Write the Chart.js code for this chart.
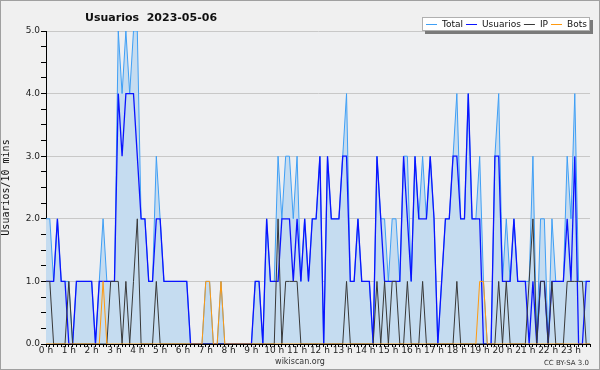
<!DOCTYPE html>
<html>
<head>
<meta charset="utf-8">
<script src="https://cdn.jsdelivr.net/npm/chart.js@4.4.1/dist/chart.umd.min.js"></script>
<style>
  html, body { margin: 0; padding: 0; background: #f0f0f0; }
  #wrap { width: 600px; height: 370px; }
</style>
</head>
<body>
<div id="wrap"><canvas id="wiki-chart" width="600" height="370"></canvas></div>
<script>
// Etiquetas de las horas (eje X)
const hourLabels = ['0 h', '1 h', '2 h', '3 h', '4 h', '5 h', '6 h', '7 h', '8 h', '9 h', '10 h', '11 h',
    '12 h', '13 h', '14 h', '15 h', '16 h', '17 h', '18 h', '19 h', '20 h', '21 h', '22 h', '23 h'];
const minuteSteps = ['00', '10', '20', '30', '40', '50'];
const yTickLabels = ['0.0', '1.0', '2.0', '3.0', '4.0', '5.0'];

// Valores cada 10 minutos (144 puntos)
const total = [
    2, 2, 1, 2, 1, 1, 1, 0, 1, 1, 1, 1, 1, 0, 1, 2, 1, 1, 1, 5, 4, 5, 4, 5,
    5, 2, 2, 1, 1, 3, 2, 1, 1, 1, 1, 1, 1, 1, 0, 0, 0, 0, 1, 1, 0, 0, 1, 0,
    0, 0, 0, 0, 0, 0, 0, 1, 1, 0, 2, 1, 1, 3, 2, 3, 3, 2, 3, 1, 2, 1, 2, 2,
    3, 0, 3, 2, 2, 2, 3, 4, 1, 1, 2, 1, 1, 1, 0, 3, 2, 2, 1, 2, 2, 1, 3, 3,
    1, 3, 2, 3, 2, 3, 2, 0, 1, 2, 2, 3, 4, 2, 2, 4, 2, 2, 3, 1, 0, 0, 3, 4,
    1, 2, 1, 2, 1, 1, 1, 1, 3, 0, 2, 2, 0, 2, 1, 1, 1, 3, 2, 4, 1, 1, 1, 1
];
const usuarios = [
    1, 1, 1, 2, 1, 1, 0, 0, 1, 1, 1, 1, 1, 0, 1, 1, 1, 1, 1, 4, 3, 4, 4, 4,
    3, 2, 2, 1, 1, 2, 2, 1, 1, 1, 1, 1, 1, 1, 0, 0, 0, 0, 0, 0, 0, 0, 0, 0,
    0, 0, 0, 0, 0, 0, 0, 1, 1, 0, 2, 1, 1, 1, 2, 2, 2, 1, 2, 1, 2, 1, 2, 2,
    3, 0, 3, 2, 2, 2, 3, 3, 1, 1, 2, 1, 1, 1, 0, 3, 2, 1, 1, 1, 1, 1, 3, 2,
    1, 3, 2, 2, 2, 3, 2, 0, 1, 2, 2, 3, 3, 2, 2, 4, 2, 2, 2, 0, 0, 0, 3, 3,
    1, 1, 1, 2, 1, 1, 1, 0, 1, 0, 1, 1, 0, 1, 1, 1, 1, 2, 1, 3, 0, 0, 1, 1
];
const ip = [
    1, 1, 0, 0, 0, 0, 1, 0, 0, 0, 0, 0, 0, 0, 0, 0, 0, 1, 1, 1, 0, 1, 0, 1,
    2, 0, 0, 0, 0, 1, 0, 0, 0, 0, 0, 0, 0, 0, 0, 0, 0, 0, 0, 0, 0, 0, 0, 0,
    0, 0, 0, 0, 0, 0, 0, 0, 0, 0, 0, 0, 0, 2, 0, 1, 1, 1, 1, 0, 0, 0, 0, 0,
    0, 0, 0, 0, 0, 0, 0, 1, 0, 0, 0, 0, 0, 0, 0, 1, 0, 1, 0, 1, 1, 0, 0, 1,
    0, 0, 0, 1, 0, 0, 0, 0, 0, 0, 0, 0, 1, 0, 0, 0, 0, 0, 0, 0, 0, 0, 0, 1,
    0, 1, 0, 0, 0, 0, 0, 1, 2, 0, 1, 1, 0, 1, 0, 0, 0, 1, 1, 1, 1, 1, 0, 0
];
const bots = [
    0, 0, 0, 0, 0, 0, 0, 0, 0, 0, 0, 0, 0, 0, 0, 1, 0, 0, 0, 0, 0, 0, 0, 0,
    0, 0, 0, 0, 0, 0, 0, 0, 0, 0, 0, 0, 0, 0, 0, 0, 0, 0, 1, 1, 0, 0, 1, 0,
    0, 0, 0, 0, 0, 0, 0, 0, 0, 0, 0, 0, 0, 0, 0, 0, 0, 0, 0, 0, 0, 0, 0, 0,
    0, 0, 0, 0, 0, 0, 0, 0, 0, 0, 0, 0, 0, 0, 0, 0, 0, 0, 0, 0, 0, 0, 0, 0,
    0, 0, 0, 0, 0, 0, 0, 0, 0, 0, 0, 0, 0, 0, 0, 0, 0, 0, 1, 1, 0, 0, 0, 0,
    0, 0, 0, 0, 0, 0, 0, 0, 0, 0, 0, 0, 0, 0, 0, 0, 0, 0, 0, 0, 0, 0, 0, 0
];

// Categorías: una por intervalo de 10 minutos
const times = [];
hourLabels.forEach(function (h, hi) {
    minuteSteps.forEach(function (m) {
        times.push(hi + ':' + m);
    });
});

// Fondo, título, leyenda y pie de página
const decor = {
    id: 'decor',
    beforeDraw(chart) {
        const ctx = chart.ctx;
        const a = chart.chartArea;
        ctx.save();
        ctx.fillStyle = '#f0f0f0';
        ctx.fillRect(0, 0, chart.width, chart.height);
        ctx.fillStyle = '#eeeff1';
        ctx.fillRect(a.left, a.top, a.right - a.left, a.bottom - a.top);
        ctx.strokeStyle = '#a0a0a0';
        ctx.lineWidth = 1;
        ctx.strokeRect(0.5, 0.5, chart.width - 1, chart.height - 1);
        ctx.restore();
    },
    afterDraw(chart) {
        const ctx = chart.ctx;
        ctx.save();
        // título
        ctx.fillStyle = '#111';
        ctx.font = 'bold 11px "DejaVu Sans"';
        ctx.textBaseline = 'alphabetic';
        ctx.textAlign = 'left';
        ctx.fillText('Usuarios  2023-05-06', 85, 21);

        // leyenda
        const boxL = 422, boxT = 17, boxR = 590, boxB = 31;
        ctx.fillStyle = '#7a7a7a';
        ctx.fillRect(boxL + 3, boxT + 3, boxR - boxL, boxB - boxT);
        ctx.fillStyle = '#ffffff';
        ctx.fillRect(boxL, boxT, boxR - boxL, boxB - boxT);
        ctx.strokeStyle = '#b0b0b0';
        ctx.strokeRect(boxL + 0.5, boxT + 0.5, boxR - boxL - 1, boxB - boxT - 1);
        ctx.font = '9px "DejaVu Sans"';
        ctx.textBaseline = 'middle';
        let x = boxL + 4;
        chart.data.datasets.forEach(function (ds) {
            ctx.strokeStyle = ds.borderColor;
            ctx.lineWidth = 1;
            ctx.beginPath();
            ctx.moveTo(x, 24.5);
            ctx.lineTo(x + 11, 24.5);
            ctx.stroke();
            ctx.fillStyle = '#111';
            ctx.fillText(ds.label, x + 16, 24.5);
            x += 16 + ctx.measureText(ds.label).width + 3;
        });

        // pie
        ctx.fillStyle = '#333';
        ctx.font = '8px "DejaVu Sans"';
        ctx.textAlign = 'center';
        ctx.textBaseline = 'alphabetic';
        ctx.fillText('wikiscan.org', 300, 364);
        ctx.font = '7px "DejaVu Sans"';
        ctx.textAlign = 'right';
        ctx.fillText('CC BY-SA 3.0', 589, 365);
        ctx.restore();
    }
};

Chart.defaults.font.family = '"DejaVu Sans"';
Chart.defaults.color = '#222';

const ctx = document.getElementById('wiki-chart').getContext('2d');
new Chart(ctx, {
    type: 'line',
    data: {
        labels: times,
        datasets: [{
            label: 'Total',
            data: total,
            borderColor: '#3f9ff5',
            backgroundColor: '#c5dcf0',
            borderWidth: 1,
            fill: 'origin',
            order: 4
        }, {
            label: 'Usuarios',
            data: usuarios,
            borderColor: '#0a14ff',
            borderWidth: 1.3,
            fill: false,
            order: 3
        }, {
            label: 'IP',
            data: ip,
            borderColor: '#383838',
            borderWidth: 1,
            fill: false,
            order: 2
        }, {
            label: 'Bots',
            data: bots,
            borderColor: '#ff9a10',
            borderWidth: 1,
            fill: false,
            order: 1
        }]
    },
    options: {
        responsive: false,
        animation: false,
        devicePixelRatio: 1,
        elements: {
            point: { radius: 0 },
            line: { tension: 0 }
        },
        layout: {
            padding: { left: 0, right: 10, top: 31, bottom: 0 }
        },
        plugins: {
            legend: { display: false },
            tooltip: { enabled: false }
        },
        scales: {
            x: {
                type: 'category',
                offset: false,
                afterFit: function (scale) { scale.height = 26; },
                grid: {
                    display: true,
                    drawOnChartArea: false,
                    tickLength: 3,
                    tickColor: '#000'
                },
                border: { display: true, color: '#000', width: 1 },
                ticks: {
                    autoSkip: false,
                    maxRotation: 0,
                    minRotation: 0,
                    padding: -2,
                    font: { size: 9 },
                    color: '#222',
                    callback: function (val, index) {
                        return index % 6 === 0 ? hourLabels[index / 6] : '';
                    }
                }
            },
            y: {
                min: 0,
                max: 5,
                afterFit: function (scale) { scale.width = 46; },
                title: {
                    display: true,
                    text: 'Usuarios/10 mins',
                    font: { family: '"DejaVu Sans Mono"', size: 10 },
                    color: '#111',
                    padding: { top: 0, bottom: 0 }
                },
                grid: {
                    color: function (c) {
                        return c.tick && Number.isInteger(c.tick.value) ? '#c8c8c8' : 'rgba(0,0,0,0)';
                    },
                    tickColor: '#000',
                    tickLength: 5
                },
                border: { display: true, color: '#000', width: 1 },
                ticks: {
                    stepSize: 0.25,
                    padding: 1,
                    font: { size: 9 },
                    color: '#222',
                    callback: function (v) {
                        return Number.isInteger(v) ? yTickLabels[v] : '';
                    }
                }
            }
        }
    },
    plugins: [decor]
});
</script>
</body>
</html>
